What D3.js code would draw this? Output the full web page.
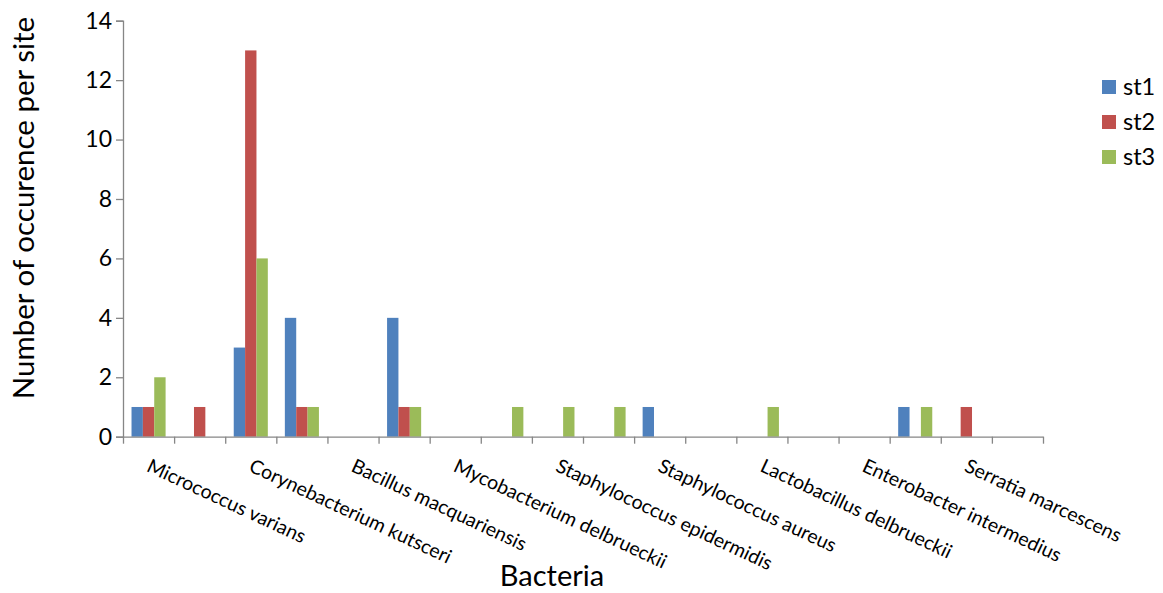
<!DOCTYPE html>
<html>
<head>
<meta charset="utf-8">
<script src="https://cdn.jsdelivr.net/npm/d3@7/dist/d3.min.js"></script>
<style>
  html, body { margin: 0; padding: 0; background: #fff; }
  svg { display: block; }
  text { font-family: Lato, "Noto Sans", sans-serif; fill: #000; }
</style>
</head>
<body>
<svg id="chart" width="1163" height="593"></svg>
<script>
// Bacteria categories (18 slots; only every second name is printed on the axis)
const categories = [
  "Micrococcus varians", null,
  "Corynebacterium kutsceri", null,
  "Bacillus macquariensis", null,
  "Mycobacterium delbrueckii", null,
  "Staphylococcus epidermidis", null,
  "Staphylococcus aureus", null,
  "Lactobacillus delbrueckii", null,
  "Enterobacter intermedius", null,
  "Serratia marcescens", null
];
const seriesNames = ["st1", "st2", "st3"];
const st1 = [1, 0, 3, 4, 0, 4, 0, 0, 0, 0, 1, 0, 0, 0, 0, 1, 0, 0];
const st2 = [1, 1, 13, 1, 0, 1, 0, 0, 0, 0, 0, 0, 0, 0, 0, 0, 1, 0];
const st3 = [2, 0, 6, 1, 0, 1, 0, 1, 1, 1, 0, 0, 1, 0, 0, 1, 0, 0];
const yTicks = [0, 2, 4, 6, 8, 10, 12, 14];
const colors = ["#4F81BD", "#C0504D", "#9BBB59"];

const series = [st1, st2, st3];
const svg = d3.select("#chart");
const m = { left: 123, right: 1043, top: 20.7, bottom: 436.7 };

// one band per category slot; bars take 3/4.5 of the slot (150% gap)
const x = d3.scaleBand()
  .domain(d3.range(categories.length))
  .range([m.left, m.right])
  .paddingInner(0)
  .paddingOuter(0);
const step = x.step();
const barW = step / 4.5;
const xs = d3.scaleBand().domain(d3.range(series.length)).range([0, barW * 3]);

const y = d3.scaleLinear().domain([0, 14]).range([m.bottom, m.top]);

// bars
series.forEach((vals, si) => {
  svg.append("g").selectAll("rect")
    .data(vals.map((v, i) => ({ v, i })).filter(d => d.v > 0))
    .join("rect")
    .attr("x", d => x(d.i) + (step - barW * 3) / 2 + xs(si))
    .attr("y", d => y(d.v))
    .attr("width", xs.bandwidth())
    .attr("height", d => y(0) - y(d.v))
    .attr("fill", colors[si]);
});

// y axis
const yAxis = svg.append("g")
  .attr("transform", `translate(${m.left},0)`)
  .call(d3.axisLeft(y).tickValues(yTicks).tickSize(7).tickPadding(4).tickFormat(d3.format("d")));
yAxis.select(".domain").attr("stroke", "#868686").attr("stroke-width", 1.3);
yAxis.selectAll(".tick line").attr("stroke", "#868686").attr("stroke-width", 1.3);
yAxis.selectAll(".tick text").attr("font-size", 23).attr("font-family", "Lato, 'Noto Sans', sans-serif");

// x axis: ticks at category boundaries
const xb = d3.scaleLinear().domain([0, categories.length]).range([m.left, m.right]);
const xAxis = svg.append("g")
  .attr("transform", `translate(0,${m.bottom})`)
  .call(d3.axisBottom(xb).tickValues(d3.range(categories.length + 1)).tickSize(7).tickSizeOuter(0).tickFormat(""));
xAxis.select(".domain").attr("stroke", "#868686").attr("stroke-width", 1.3);
xAxis.selectAll(".tick line").attr("stroke", "#868686").attr("stroke-width", 1.3);

// category labels, rotated
svg.append("g").selectAll("text")
  .data(categories.map((c, i) => ({ c, i })).filter(d => d.c))
  .join("text")
  .attr("transform", d => `translate(${x(d.i) + step / 2 - 3},${m.bottom + 34}) rotate(25)`)
  .attr("font-size", 19.5)
  .text(d => d.c);

// axis titles
svg.append("text")
  .attr("x", 552).attr("y", 586)
  .attr("text-anchor", "middle")
  .attr("font-size", 29)
  .text("Bacteria");

svg.append("text")
  .attr("transform", `translate(34,208) rotate(-90)`)
  .attr("text-anchor", "middle")
  .attr("font-size", 29.5)
  .text("Number of occurence per site");

// legend
const lg = svg.append("g");
seriesNames.forEach((n, i) => {
  const yy = 87 + i * 35;
  lg.append("rect").attr("x", 1102).attr("y", yy - 7).attr("width", 14).attr("height", 14).attr("fill", colors[i]);
  lg.append("text").attr("x", 1123).attr("y", yy + 8).attr("font-size", 23.5).text(n);
});
</script>
</body>
</html>
